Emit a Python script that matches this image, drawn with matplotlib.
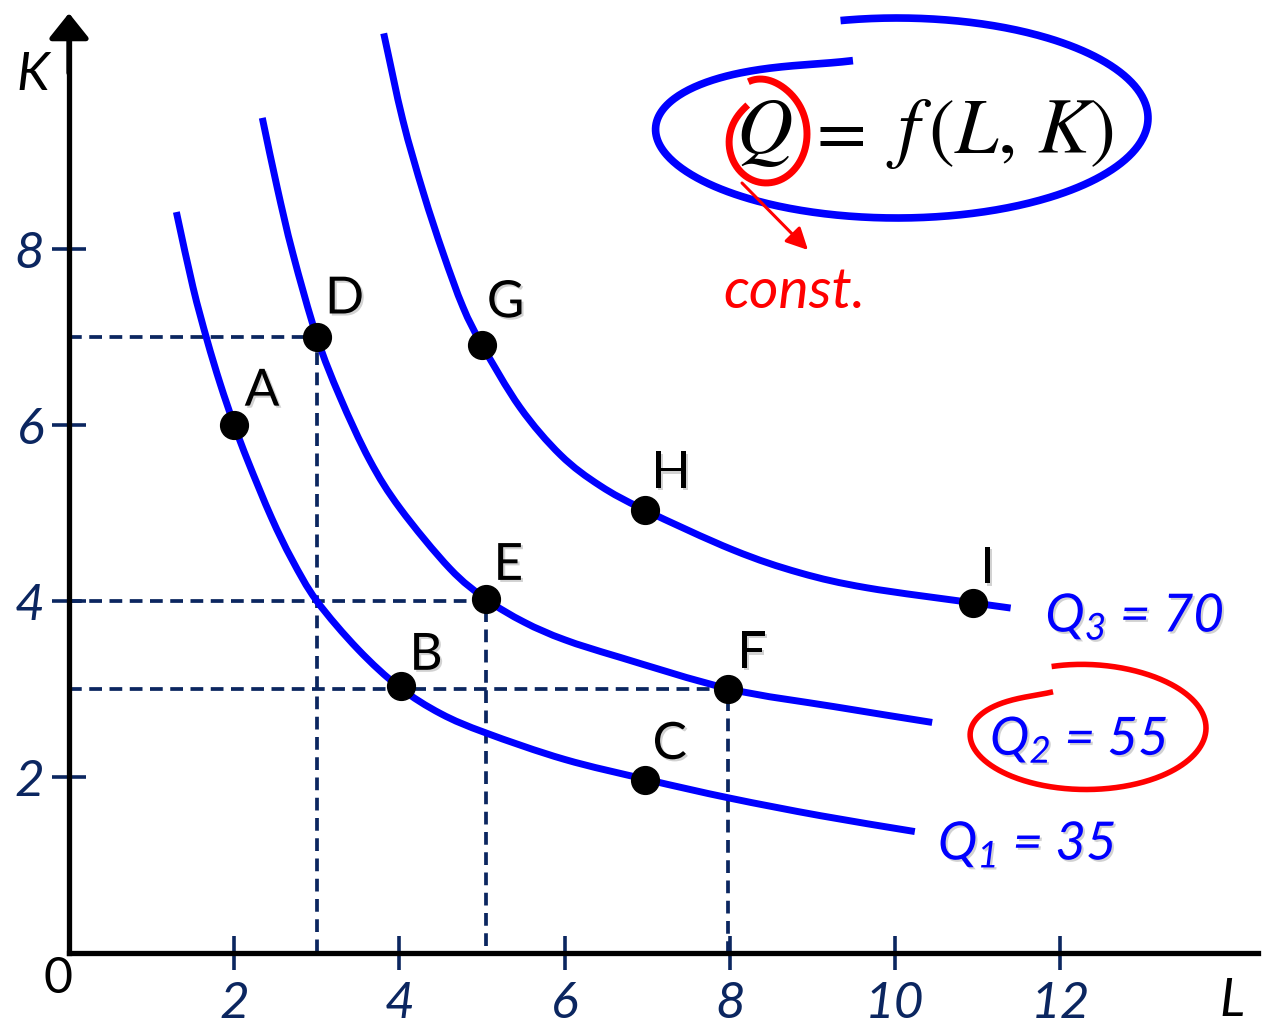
import numpy as np
import matplotlib
matplotlib.use("Agg")
import matplotlib.pyplot as plt
import matplotlib.patheffects as pe
from matplotlib.path import Path
from matplotlib.patches import PathPatch

# ── isoquants: (L, K) pairs along each curve ─────────────────────────────
Q1_L = [1.30, 1.50, 1.67, 1.83, 2.00, 2.17, 2.45, 2.70, 3.00, 3.50, 4.00,
        4.50, 5.05, 6.00, 7.00, 8.00, 9.10, 10.24]
Q1_K = [8.42, 7.57, 6.97, 6.47, 6.00, 5.58, 4.95, 4.47, 4.00, 3.45, 3.02,
        2.72, 2.50, 2.20, 1.97, 1.76, 1.56, 1.38]

Q2_L = [2.34, 2.52, 2.71, 3.00, 3.28, 3.64, 4.01, 4.61, 5.05, 5.51, 6.00,
        6.67, 8.00, 9.26, 10.45]
Q2_K = [9.49, 8.70, 7.95, 7.00, 6.32, 5.60, 5.05, 4.37, 4.02, 3.76, 3.56,
        3.36, 3.00, 2.80, 2.62]

Q3_L = [3.81, 4.04, 4.29, 4.53, 4.77, 5.00, 5.46, 5.95, 6.43, 6.98, 8.04,
        8.85, 9.66, 10.94, 11.40]
Q3_K = [10.45, 9.47, 8.64, 7.95, 7.34, 6.91, 6.20, 5.66, 5.31, 5.03, 4.58,
        4.32, 4.15, 3.98, 3.92]

Q_NAMES = ["$Q_1$ = 35", "$Q_2$ = 55", "$Q_3$ = 70"]

# labelled input bundles
POINT_NAMES = ["A", "B", "C", "D", "E", "F", "G", "H", "I"]
POINT_L = [2.00, 4.02, 6.97, 3.00, 5.05, 7.98, 5.00, 6.97, 10.94]
POINT_K = [6.00, 3.03, 1.97, 7.00, 4.02, 3.00, 6.91, 5.03, 3.98]

# dashed projections onto the axes (D, E, F)
GUIDE_L = [3.00, 5.05, 7.98]
GUIDE_K = [7.00, 4.00, 3.00]

X_TICKS = [2, 4, 6, 8, 10, 12]
Y_TICKS = [2, 4, 6, 8]

BLUE = "#0000ff"
NAVY = "#0b2660"
RED = "#ff0000"

plt.rcParams["font.family"] = ["Lato", "DejaVu Sans"]
plt.rcParams["mathtext.fontset"] = "custom"
plt.rcParams["mathtext.it"] = "Lato:italic"
plt.rcParams["mathtext.rm"] = "Lato:italic"

shadow = [pe.withSimplePatchShadow(offset=(1.5, -1.5), shadow_rgbFace="gray",
                                   alpha=0.35)]


def smooth_path(xs, ys):
    """Catmull-Rom curve through the given vertices, as cubic Beziers."""
    p = np.column_stack([xs, ys]).astype(float)
    ext = np.vstack([2 * p[0] - p[1], p, 2 * p[-1] - p[-2]])
    verts, codes = [p[0]], [Path.MOVETO]
    for i in range(1, len(ext) - 2):
        c1 = ext[i] + (ext[i + 1] - ext[i - 1]) / 6
        c2 = ext[i + 1] - (ext[i + 2] - ext[i]) / 6
        verts += [c1, c2, ext[i + 1]]
        codes += [Path.CURVE4] * 3
    return Path(verts, codes)


fig = plt.figure(figsize=(12.73, 10.26), dpi=100)
ax = fig.add_axes([0, 0, 1, 1])
ax.set_xlim(-69 / 82.6, (1273 - 69) / 82.6)
ax.set_ylim(-73 / 88, 953 / 88)

# axes through the origin
for side in ("top", "right"):
    ax.spines[side].set_visible(False)
ax.spines["left"].set_position(("data", 0))
ax.spines["bottom"].set_position(("data", 0))
ax.spines["left"].set_bounds(0, 10.5)
ax.spines["bottom"].set_bounds(0, 14.4)
for side in ("left", "bottom"):
    ax.spines[side].set_linewidth(3.8)
    ax.spines[side].set_zorder(4)
    ax.spines[side].set_capstyle("projecting")

ax.set_xticks(X_TICKS)
ax.set_yticks(Y_TICKS)
ax.tick_params(direction="inout", length=24, width=2.6, color=NAVY,
               labelcolor=NAVY, labelsize=37)
ax.tick_params(axis="x", pad=8)
ax.tick_params(axis="y", pad=6)
for lab in ax.get_xticklabels() + ax.get_yticklabels():
    lab.set_fontstyle("italic")

arrow = dict(arrowstyle="-|>,head_length=0.45,head_width=0.36",
             color="black", lw=3.8, mutation_scale=34, shrinkA=0, shrinkB=0)
ax.annotate("", xy=(0, 10.68), xytext=(0, 10.0), arrowprops=arrow, zorder=5)
ax.annotate("", xy=(14.6, 0), xytext=(14.0, 0), arrowprops=arrow, zorder=5)

ax.text(-0.13, -0.30, "0", fontsize=36, ha="center", va="center")
ax.text(-0.44, 9.98, "K", fontsize=38, style="italic", ha="center", va="center")
ax.text(14.08, -0.55, "L", fontsize=38, style="italic", ha="center", va="center")

# dashed guides
for gl, gk in zip(GUIDE_L, GUIDE_K):
    ax.plot([0, gl, gl], [gk, gk, 0], color=NAVY, lw=2.7, dashes=(3.4, 2.0),
            zorder=2)

# isoquants
for ql, qk in [(Q1_L, Q1_K), (Q2_L, Q2_K), (Q3_L, Q3_K)]:
    ax.add_patch(PathPatch(smooth_path(ql, qk), fill=False, edgecolor=BLUE,
                           lw=5, capstyle="butt", zorder=3))

ax.plot(POINT_L, POINT_K, "o", color="black", ms=20, zorder=6)

label_offsets = [(20, 24), (18, 22), (18, 25), (20, 27), (16, 24), (17, 25),
                 (17, 30), (19, 26), (11, 24)]
for name, pl, pk, off in zip(POINT_NAMES, POINT_L, POINT_K, label_offsets):
    ax.annotate(name, (pl, pk), xytext=off, textcoords="offset points",
                fontsize=37, ha="center", va="center", zorder=7,
                path_effects=shadow)

q_pos = [(10.52, 1.23), (11.15, 2.42), (11.82, 3.82)]
for name, (tx, ty) in zip(Q_NAMES, q_pos):
    ax.text(tx, ty, name, fontsize=38, color=BLUE, style="italic",
            ha="left", va="center", path_effects=shadow)

# annotation layer in pixel space (y grows downwards)
deco = fig.add_axes([0, 0, 1, 1])
deco.set_xlim(0, 1273)
deco.set_ylim(1026, 0)
deco.axis("off")


def open_loop(cx, cy, a, b, t0, t1, scale, **kw):
    """Pen-drawn loop: an ellipse whose radius drifts so the ends don't meet."""
    t = np.linspace(t0, t1, 500)
    s = scale(t)
    r = np.radians(t)
    deco.plot(cx + a * s * np.cos(r), cy - b * s * np.sin(r),
              solid_capstyle="butt", **kw)


# blue loop around the production function, drawn anticlockwise
open_loop(897, 118, 251, 100, 107, 463,
          lambda t: 1 - 0.4 * np.exp(-((t - 107) / 50) ** 2),
          color=BLUE, lw=5.5)
# red loop around Q, drawn clockwise and curling inwards
open_loop(766, 134, 41, 49, 112, -233,
          lambda t: (1 + 0.15 * np.exp(-((t - 112) / 40) ** 2)
                     - 0.26 * np.exp(-((t + 233) / 60) ** 2)),
          color=RED, lw=5)
# red loop around Q2 = 55
open_loop(1086, 728, 120, 61.5, 106, -245,
          lambda t: (1 + 0.04 * np.exp(-((t - 106) / 40) ** 2)
                     - 0.35 * np.exp(-((t + 245) / 45) ** 2)),
          color=RED, lw=4)

# Q = f(L, K)
deco.text(764, 153, r"$Q$", fontsize=56, ha="center", va="baseline",
          math_fontfamily="stix")
deco.text(835, 153, r"$=$", fontsize=52, ha="center", va="baseline",
          math_fontfamily="stix")
deco.text(886, 153, r"$f\,(L,\,K)$", fontsize=56, ha="left", va="baseline",
          math_fontfamily="stix")

deco.annotate("", xy=(808, 250), xytext=(742, 183),
              arrowprops=dict(arrowstyle="-|>,head_length=0.6,head_width=0.3",
                              color=RED, lw=2.2, mutation_scale=22,
                              shrinkA=0, shrinkB=0))
deco.text(794, 292, "const.", fontsize=41, color=RED, style="italic",
          ha="center", va="center")

fig.savefig("out.png", dpi=100)
